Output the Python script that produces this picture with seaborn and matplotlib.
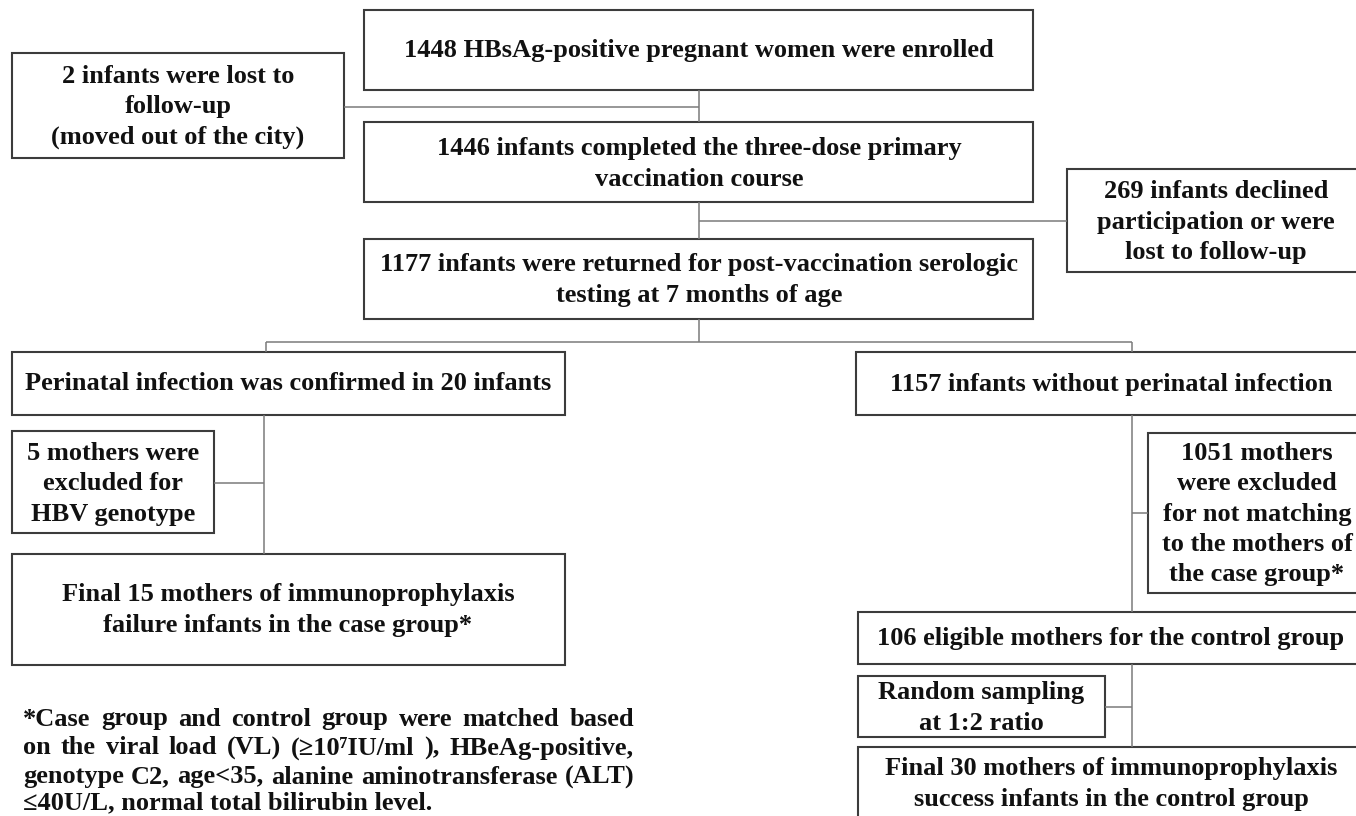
import matplotlib
matplotlib.use("Agg")
import matplotlib.pyplot as plt
from matplotlib.patches import Rectangle
import seaborn as sns

# ---- flowchart text (data) ----
main_steps = [
    "1448 HBsAg-positive pregnant women were enrolled",
    "1446 infants completed the three-dose primary\nvaccination course",
    "1177 infants were returned for post-vaccination serologic\ntesting at 7 months of age",
]
side_exclusions = [
    "2 infants were lost to\nfollow-up\n(moved out of the city)",
    "269 infants declined\nparticipation or were\nlost to follow-up",
]
case_branch = [
    "Perinatal infection was confirmed in 20 infants",
    "5 mothers were\nexcluded for\nHBV genotype",
    "Final 15 mothers of immunoprophylaxis\nfailure infants in the case group*",
]
control_branch = [
    "1157 infants without perinatal infection",
    "1051 mothers\nwere excluded\nfor not matching\nto the mothers of\nthe case group*",
    "106 eligible mothers for the control group",
    "Random sampling\nat 1:2 ratio",
    "Final 30 mothers of immunoprophylaxis\nsuccess infants in the control group",
]
footnote_lines = [
    "*Case group and control group were matched based",
    "on the viral load (VL) (\u226510\u2077IU/ml ), HBeAg-positive,",
    "genotype C2, age<35, alanine aminotransferase (ALT)",
    "\u226440U/L, normal total bilirubin level.",
]

# ---- layout (pixels, y down): x0, y0, x1, y1, text x, text y ----
main_boxes = [(364, 10, 1033, 90, 699, 51),
              (364, 122, 1033, 202, 699, 164),
              (364, 239, 1033, 319, 699, 280)]
side_boxes = [(12, 53, 344, 158, 178, 107),
              (1067, 169, 1366, 272, 1216, 222)]
case_boxes = [(12, 352, 565, 415, 288, 384),
              (12, 431, 214, 533, 113, 484),
              (12, 554, 565, 665, 288, 610)]
control_boxes = [(856, 352, 1366, 415, 1111, 384),
                 (1148, 433, 1366, 593, 1257, 514),
                 (858, 612, 1366, 664, 1111, 638),
                 (858, 676, 1105, 737, 981, 708),
                 (858, 747, 1366, 840, 1111, 784)]

connectors = [
    ([699, 699], [90, 122]), ([699, 699], [202, 239]), ([699, 699], [319, 342]),
    ([344, 699], [107, 107]), ([699, 1067], [221, 221]),
    ([266, 1132], [342, 342]), ([266, 266], [342, 352]), ([1132, 1132], [342, 352]),
    ([264, 264], [415, 554]), ([214, 264], [483, 483]),
    ([1132, 1132], [415, 612]), ([1132, 1148], [513, 513]),
    ([1132, 1132], [664, 747]), ([1105, 1132], [707, 707]),
]

sns.set_theme(style="white")
plt.rcParams['font.family'] = ['Liberation Serif', 'DejaVu Serif']

W, H = 1356, 816
fig = plt.figure(figsize=(W / 100, H / 100), dpi=100)
ax = fig.add_axes([0, 0, 1, 1])
ax.set_xlim(0, W)
ax.set_ylim(H, 0)
ax.axis('off')

FS = 19
font = dict(fontsize=FS, fontweight='bold', color='#111111')

for x, y in connectors:
    ax.plot(x, y, color='#7a7a7a', lw=1.1, solid_capstyle='butt')

all_texts = main_steps + side_exclusions + case_branch + control_branch
all_boxes = main_boxes + side_boxes + case_boxes + control_boxes
for txt, (x0, y0, x1, y1, tx, ty) in zip(all_texts, all_boxes):
    ax.add_patch(Rectangle((x0, y0), x1 - x0, y1 - y0, facecolor='white',
                           edgecolor='#3c3c3c', lw=1.5))
    ax.text(tx, ty, txt, ha='center', va='center', linespacing=1.4, **font)

# justified footnote
renderer = fig.canvas.get_renderer()
fx0, fx1 = 23, 634
fy = [719, 748, 777, 803]
for i, line in enumerate(footnote_lines):
    words = [w for w in line.split(' ') if w]
    if i == len(footnote_lines) - 1:
        ax.text(fx0, fy[i], line, ha='left', va='center', **font)
        continue
    widths = []
    for w in words:
        t = ax.text(0, 0, w, **font)
        widths.append(t.get_window_extent(renderer).width)
        t.remove()
    gap = (fx1 - fx0 - sum(widths)) / (len(words) - 1)
    xpos = fx0
    for w, wd in zip(words, widths):
        ax.text(xpos, fy[i], w, ha='left', va='center', **font)
        xpos += wd + gap

fig.savefig("out.png", dpi=100)
